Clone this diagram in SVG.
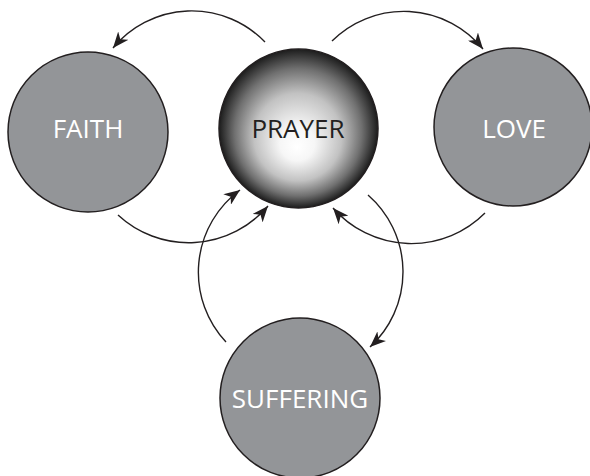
<svg xmlns="http://www.w3.org/2000/svg" width="590" height="476" viewBox="0 0 590 476">
<style>
.node{fill:#939598;stroke:#231f20;stroke-width:1.5}
.lbl{font-family:"Open Sans","Liberation Sans",sans-serif;font-size:26px;text-anchor:middle;fill:#ffffff}
.dark{fill:#231f20}
.conn{fill:none;stroke:#231f20;stroke-width:1.4;marker-end:url(#ah)}
</style>
<defs>
<radialGradient id="pg" cx="0.5" cy="0.5" r="0.5" fx="0.49" fy="0.62">
<stop offset="0" stop-color="#ffffff"/>
<stop offset="0.22" stop-color="#f6f6f6"/>
<stop offset="0.55" stop-color="#c2c2c2"/>
<stop offset="0.8" stop-color="#707070"/>
<stop offset="1" stop-color="#1c1c1c"/>
</radialGradient>
<marker id="ah" markerUnits="userSpaceOnUse" markerWidth="17" markerHeight="13" refX="16" refY="6.5" orient="auto">
<path d="M0,0 L16,6.5 L0,13 L4.5,6.5 z" fill="#231f20"/>
</marker>
</defs>
<rect width="590" height="476" fill="#ffffff"/>
<g id="connectors">
<path class="conn" d="M265,42 A102,102 0 0 0 113,48"/>
<path class="conn" d="M332,41 A102,102 0 0 1 483,49"/>
<path class="conn" d="M118,215 A104,104 0 0 0 268,206"/>
<path class="conn" d="M485,213 A104,104 0 0 1 333,208"/>
<path class="conn" d="M226,342 A102,102 0 0 1 240,190"/>
<path class="conn" d="M368,195 A102,102 0 0 1 370,347"/>
</g>
<g id="faith">
<circle class="node" cx="88" cy="132" r="80"/>
<text class="lbl" x="88" y="138">FAITH</text>
</g>
<g id="prayer">
<circle cx="298.5" cy="128.5" r="79.5" fill="url(#pg)" stroke="#231f20" stroke-width="1.5"/>
<text class="lbl dark" x="298" y="138">PRAYER</text>
</g>
<g id="love">
<circle class="node" cx="513" cy="127" r="79"/>
<text class="lbl" x="514" y="138">LOVE</text>
</g>
<g id="suffering">
<circle class="node" cx="300" cy="398" r="80"/>
<text class="lbl" x="300" y="408">SUFFERING</text>
</g>
</svg>
